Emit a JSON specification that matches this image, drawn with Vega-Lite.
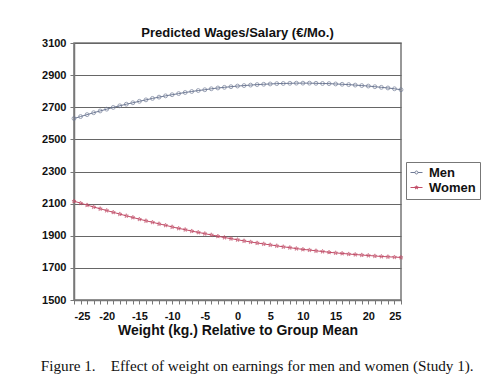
{
  "$schema": "https://vega.github.io/schema/vega-lite/v6.json",
  "background": "white",
  "padding": {"left": 40, "top": 26, "right": 0, "bottom": 0},
  "title": {
    "text": "Figure 1.\u00a0\u00a0\u00a0\u00a0Effect of weight on earnings for men and women (Study 1).",
    "orient": "bottom",
    "anchor": "start",
    "font": "Liberation Serif",
    "fontSize": 15.2,
    "fontWeight": "normal",
    "color": "#111",
    "offset": 21
  },
  "datasets": {
    "wages": [
      {"w": -25, "Men": 2630, "Women": 2115},
      {"w": -24, "Men": 2642, "Women": 2103},
      {"w": -23, "Men": 2654, "Women": 2091},
      {"w": -22, "Men": 2666, "Women": 2079},
      {"w": -21, "Men": 2677, "Women": 2068},
      {"w": -20, "Men": 2688, "Women": 2057},
      {"w": -19, "Men": 2699, "Women": 2046},
      {"w": -18, "Men": 2709, "Women": 2035},
      {"w": -17, "Men": 2719, "Women": 2024},
      {"w": -16, "Men": 2728, "Women": 2014},
      {"w": -15, "Men": 2737, "Women": 2003},
      {"w": -14, "Men": 2746, "Women": 1993},
      {"w": -13, "Men": 2755, "Women": 1984},
      {"w": -12, "Men": 2763, "Women": 1974},
      {"w": -11, "Men": 2771, "Women": 1965},
      {"w": -10, "Men": 2778, "Women": 1955},
      {"w": -9, "Men": 2785, "Women": 1946},
      {"w": -8, "Men": 2792, "Women": 1938},
      {"w": -7, "Men": 2798, "Women": 1929},
      {"w": -6, "Men": 2804, "Women": 1921},
      {"w": -5, "Men": 2809, "Women": 1913},
      {"w": -4, "Men": 2815, "Women": 1905},
      {"w": -3, "Men": 2820, "Women": 1897},
      {"w": -2, "Men": 2824, "Women": 1889},
      {"w": -1, "Men": 2828, "Women": 1882},
      {"w": 0, "Men": 2832, "Women": 1875},
      {"w": 1, "Men": 2835, "Women": 1868},
      {"w": 2, "Men": 2838, "Women": 1861},
      {"w": 3, "Men": 2841, "Women": 1855},
      {"w": 4, "Men": 2843, "Women": 1849},
      {"w": 5, "Men": 2845, "Women": 1843},
      {"w": 6, "Men": 2847, "Women": 1837},
      {"w": 7, "Men": 2848, "Women": 1831},
      {"w": 8, "Men": 2849, "Women": 1826},
      {"w": 9, "Men": 2850, "Women": 1820},
      {"w": 10, "Men": 2850, "Women": 1815},
      {"w": 11, "Men": 2850, "Women": 1811},
      {"w": 12, "Men": 2849, "Women": 1806},
      {"w": 13, "Men": 2848, "Women": 1802},
      {"w": 14, "Men": 2847, "Women": 1797},
      {"w": 15, "Men": 2845, "Women": 1793},
      {"w": 16, "Men": 2843, "Women": 1790},
      {"w": 17, "Men": 2841, "Women": 1786},
      {"w": 18, "Men": 2838, "Women": 1783},
      {"w": 19, "Men": 2835, "Women": 1780},
      {"w": 20, "Men": 2832, "Women": 1777},
      {"w": 21, "Men": 2828, "Women": 1774},
      {"w": 22, "Men": 2824, "Women": 1771},
      {"w": 23, "Men": 2820, "Women": 1769},
      {"w": 24, "Men": 2815, "Women": 1767},
      {"w": 25, "Men": 2809, "Women": 1765}
    ]
  },
  "config": {
    "view": {"stroke": "#777", "strokeWidth": 1.5},
    "font": "Liberation Sans"
  },
  "vconcat": [
    {
      "width": 327,
      "height": 257,
      "title": {
        "text": "Predicted Wages/Salary (€/Mo.)",
        "font": "Liberation Sans",
        "fontSize": 13,
        "fontWeight": "bold",
        "color": "#111",
        "offset": -3
      },
      "data": {"name": "wages"},
      "transform": [{"fold": ["Men", "Women"], "as": ["group", "wage"]}],
      "encoding": {
        "x": {
          "field": "w",
          "type": "quantitative",
          "scale": {"domain": [-25, 25], "nice": false, "zero": false},
          "axis": {
            "title": "Weight (kg.) Relative to Group Mean",
            "titleFont": "Liberation Sans",
            "titleFontSize": 14,
            "titleFontWeight": "bold",
            "titleColor": "#111",
            "titlePadding": 2,
            "values": [-25,-24,-23,-22,-21,-20,-19,-18,-17,-16,-15,-14,-13,-12,-11,-10,-9,-8,-7,-6,-5,-4,-3,-2,-1,0,1,2,3,4,5,6,7,8,9,10,11,12,13,14,15,16,17,18,19,20,21,22,23,24,25],
            "labelExpr": "datum.value % 5 == 0 ? '' + datum.value : ''",
            "labelOverlap": false,
            "labelFont": "Liberation Sans",
            "labelFontSize": 11,
            "labelFontWeight": "bold",
            "labelColor": "#111",
            "labelPadding": 6,
            "grid": false,
            "domainColor": "#777",
            "domainWidth": 1.5,
            "tickColor": "#777",
            "tickSize": 4,
            "tickWidth": 1
          }
        },
        "y": {
          "field": "wage",
          "type": "quantitative",
          "scale": {"domain": [1500, 3100], "nice": false, "zero": false},
          "axis": {
            "title": null,
            "values": [1500, 1700, 1900, 2100, 2300, 2500, 2700, 2900, 3100],
            "format": "d",
            "labelFont": "Liberation Sans",
            "labelFontSize": 11,
            "labelFontWeight": "bold",
            "labelColor": "#111",
            "labelPadding": 4,
            "grid": true,
            "gridColor": "#666",
            "gridWidth": 1,
            "domainColor": "#777",
            "domainWidth": 1.5,
            "tickColor": "#777",
            "tickSize": 4
          }
        },
        "color": {
          "field": "group",
          "type": "nominal",
          "scale": {"domain": ["Men", "Women"], "range": ["#6f7a95", "#c24d68"]},
          "legend": {
            "title": null,
            "orient": "none",
            "legendX": 332,
            "legendY": 119,
            "strokeColor": "#777",
            "padding": 4,
            "labelFont": "Liberation Sans",
            "labelFontSize": 13,
            "labelFontWeight": "bold",
            "labelColor": "#111",
            "labelOffset": 6,
            "symbolSize": 100,
            "symbolStrokeWidth": 1,
            "rowPadding": 1,
            "encode": {
              "symbols": {
                "update": {
                  "shape": {"signal": "datum.value == 'Men' ? 'M-1.2,0L-0.3,0M0.3,0L1.2,0M-0.3,0A0.3,0.3 0 1,0 0.3,0A0.3,0.3 0 1,0 -0.3,0' : 'M-1.2,0L1.2,0M0,-0.35L0.08,-0.11L0.33,-0.11L0.13,0.04L0.2,0.28L0,0.14L-0.2,0.28L-0.13,0.04L-0.33,-0.11L-0.08,-0.11Z'"},
                  "fill": {"value": "transparent"}
                }
              }
            }
          }
        }
      },
      "layer": [
        {"mark": {"type": "line", "strokeWidth": 1}},
        {
          "transform": [{"filter": "datum.group == 'Men'"}],
          "mark": {"type": "point", "shape": "circle", "filled": false, "size": 15, "strokeWidth": 1}
        },
        {
          "transform": [{"filter": "datum.group == 'Women'"}],
          "mark": {"type": "point", "shape": "M0,-1L0.235,-0.324L0.951,-0.309L0.380,0.124L0.588,0.809L0,0.4L-0.588,0.809L-0.380,0.124L-0.951,-0.309L-0.235,-0.324Z", "filled": false, "size": 18, "strokeWidth": 1}
        }
      ]
    }
  ]
}
